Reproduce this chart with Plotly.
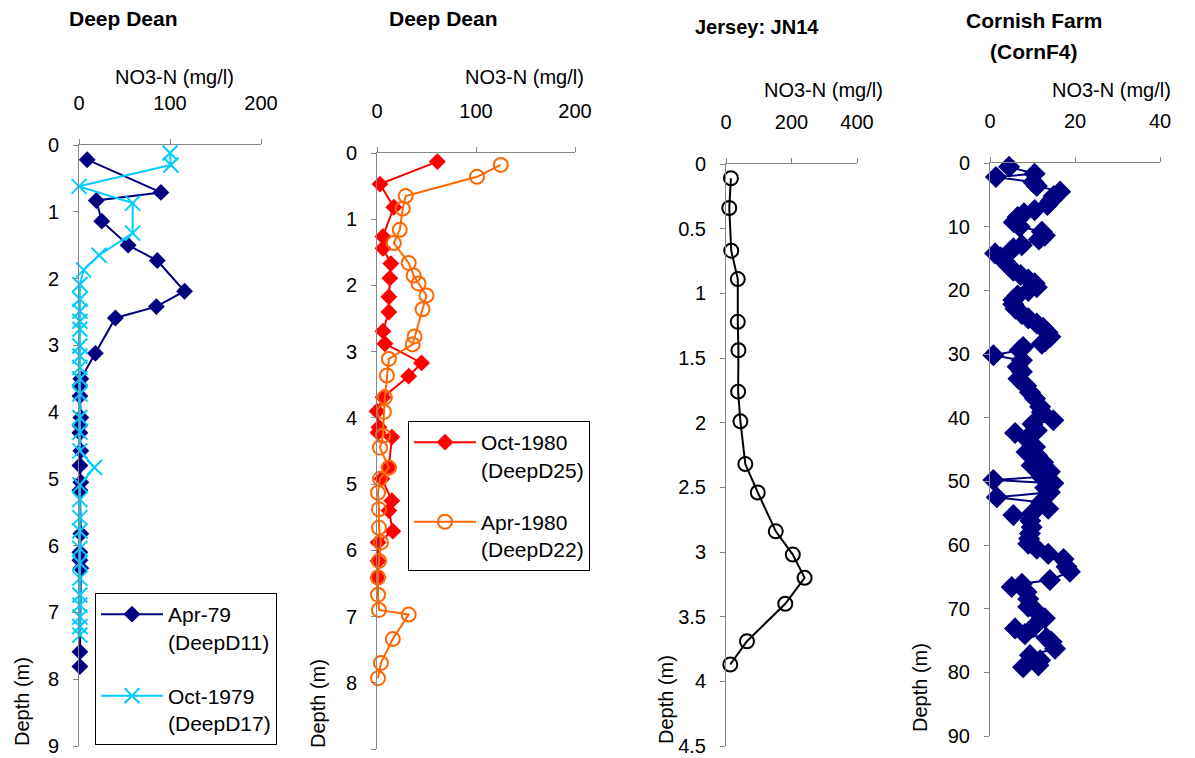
import plotly.graph_objects as go

W, H = 1195, 758

# ---------------- data ----------------
# Panel 1: Deep Dean
depth_apr79 = [0.22, 0.71, 0.83, 1.14, 1.50, 1.73, 2.19, 2.42, 2.59, 3.12, 3.50, 3.60, 3.76,
               4.08, 4.20, 4.31, 4.58, 4.80, 5.05, 5.17, 5.82, 6.10, 6.22, 6.34, 7.59, 7.81]
no3_apr79 = [9, 90, 19, 25, 54, 86, 116, 85, 40, 18, 2, 1, 1,
             2, 1, 1, 2, 1, 2, 1, 2, 1, 1, 2, 1, 1]

depth_oct79 = [0.12, 0.30, 0.62, 0.87, 1.32, 1.65, 1.87, 2.09, 2.31, 2.49, 2.64, 2.76, 3.01,
               3.16, 3.33, 3.50, 3.73, 4.08, 4.30, 4.58, 4.83, 5.09, 5.31, 5.58, 5.78, 6.04,
               6.26, 6.49, 6.74, 6.89, 7.07, 7.21, 7.34]
no3_oct79 = [100, 101, 0, 59, 59, 22, 5, 1, 1, 1, 1, 1, 1,
             1, 1, 1, 1, 1, 1, 1, 17, 1, 1, 1, 1, 1,
             1, 1, 1, 1, 1, 1, 1]

# Panel 2: Deep Dean
depth_oct80 = [0.13, 0.47, 0.82, 1.26, 1.44, 1.67, 1.89, 2.17, 2.40, 2.69, 2.88, 3.17, 3.37,
               3.69, 3.90, 4.14, 4.22, 4.29, 4.75, 4.92, 5.25, 5.40, 5.71, 5.88, 6.16, 6.41]
no3_oct80 = [61, 3, 17, 6, 6, 14, 13, 12, 12, 6, 8, 45, 32,
             6, 0, 2, 1, 15, 12, 5, 15, 12, 16, 1, 1, 1]

depth_apr80 = [0.18, 0.36, 0.65, 0.84, 1.16, 1.36, 1.66, 1.85, 1.97, 2.15, 2.36, 2.77, 2.89,
               3.11, 3.36, 3.69, 3.91, 4.27, 4.45, 4.75, 4.92, 5.13, 5.38, 5.66, 5.88, 6.16,
               6.41, 6.67, 6.90, 6.97, 7.34, 7.70, 7.93]
no3_apr80 = [125, 101, 29, 26, 23, 17, 32, 37, 42, 50, 46, 38, 36,
             12, 10, 8, 7, 6, 3, 12, 3, 1, 2, 2, 4, 2,
             1, 1, 2, 32, 16, 4, 1]

# Panel 3: Jersey JN14
depth_jn14 = [0.11, 0.34, 0.67, 0.89, 1.22, 1.44, 1.76, 1.99, 2.32, 2.54, 2.84, 3.02, 3.20,
              3.40, 3.69, 3.87]
no3_jn14 = [15, 10, 16, 36, 36, 38, 37, 44, 59, 97, 152, 204, 240, 181, 64, 13]

# Panel 4: Cornish Farm CornF4
depth_cornf4 = [0.6, 1.7, 2.2, 3.0, 3.6, 4.5, 5.2, 5.9, 6.6, 7.4, 7.9, 8.5, 9.3, 10.0,
                10.8, 11.4, 12.0, 12.9, 13.4, 14.2, 14.8, 15.5, 16.2, 16.9, 17.6, 18.3,
                18.9, 19.5, 20.1, 20.8, 21.5, 22.2, 22.9, 23.7, 24.4, 25.2, 25.9, 26.6,
                27.3, 28.0, 28.4, 28.9, 29.4, 30.2, 31.0, 32.0, 32.8, 33.9, 35.0, 36.0,
                37.0, 38.3, 39.1, 40.4, 41.0, 42.0, 42.4, 43.0, 43.6, 44.6, 45.4, 45.9,
                47.0, 47.5, 48.5, 49.3, 49.8, 50.3, 51.0, 51.7, 52.5, 53.3, 54.3, 55.1,
                55.3, 56.2, 57.2, 58.2, 59.0, 59.8, 60.6, 61.4, 62.2, 63.4, 64.2, 65.5,
                66.1, 66.6, 67.4, 68.5, 69.7, 70.5, 71.5, 72.9, 73.1, 74.0, 74.6, 75.2,
                76.3, 77.3, 78.1, 78.9, 79.2]
no3_cornf4 = [4.5, 10.5, 1.4, 10.2, 11.0, 16.5, 15.0, 14.4, 13.5, 10.5, 8.0, 6.5, 5.6, 7.0,
              12.2, 12.9, 11.5, 7.5, 5.5, 1.2, 2.5, 3.5, 4.5, 5.5, 7.2, 9.0,
              10.5, 11.0, 9.0, 6.5, 5.5, 5.5, 6.0, 7.5, 9.0, 11.0, 12.5, 13.5,
              14.2, 13.0, 12.2, 7.8, 7.0, 0.8, 7.5, 6.5, 7.5, 6.7, 8.5, 9.4,
              10.6, 11.8, 12.2, 14.9, 10.0, 11.0, 5.9, 9.0, 9.0, 10.6, 8.6, 11.0,
              12.5, 9.8, 14.1, 12.2, 0.8, 14.9, 13.0, 14.1, 1.6, 12.0, 13.7, 9.8,
              5.5, 9.5, 9.8, 9.4, 9.2, 9.0, 11.0, 13.7, 17.3, 18.0, 18.8, 14.1,
              7.5, 5.1, 8.6, 9.0, 9.0, 11.0, 12.9, 10.2, 5.9, 8.2, 13.3, 14.5,
              15.3, 9.4, 11.8, 11.4, 7.8]

panel_titles = ["Deep Dean", "Deep Dean", "Jersey: JN14", "Cornish Farm", "(CornF4)"]
x_title = "NO3-N (mg/l)"
y_title = "Depth (m)"

NAVY = "#000080"
SKY = "#00CCFF"
RED = "#FF0000"
ORANGE = "#FF6600"
AXC = "#868686"
FONT = "Arial, Liberation Sans, sans-serif"
FS = 20

def px(x):
    return x / W

def py(y):
    return 1 - y / H

fig = go.Figure()

fig.add_trace(go.Scatter(x=no3_apr79, y=depth_apr79, mode="lines+markers",
    name="Apr-79<br>(DeepD11)", legend="legend", legendgroup="a",
    line=dict(color=NAVY, width=2),
    marker=dict(symbol="diamond", size=13, color=NAVY),
    xaxis="x", yaxis="y", cliponaxis=False))
fig.add_trace(go.Scatter(x=no3_oct79, y=depth_oct79, mode="lines+markers",
    name="Oct-1979<br>(DeepD17)", legend="legend", legendgroup="b",
    line=dict(color=SKY, width=2),
    marker=dict(symbol="x-thin", size=15, color=SKY, line=dict(color=SKY, width=2)),
    xaxis="x", yaxis="y", cliponaxis=False))

fig.add_trace(go.Scatter(x=no3_oct80, y=depth_oct80, mode="lines+markers",
    name="Oct-1980<br>(DeepD25)", legend="legend2", legendgroup="c",
    line=dict(color=RED, width=2),
    marker=dict(symbol="diamond", size=13, color=RED),
    xaxis="x2", yaxis="y2", cliponaxis=False))
fig.add_trace(go.Scatter(x=no3_apr80, y=depth_apr80, mode="lines+markers",
    name="Apr-1980<br>(DeepD22)", legend="legend2", legendgroup="d",
    line=dict(color=ORANGE, width=2),
    marker=dict(symbol="circle-open", size=14, color=ORANGE, line=dict(width=2)),
    xaxis="x2", yaxis="y2", cliponaxis=False))

fig.add_trace(go.Scatter(x=no3_jn14, y=depth_jn14, mode="lines+markers",
    showlegend=False, line=dict(color="black", width=2),
    marker=dict(symbol="circle-open", size=14, color="black", line=dict(width=2)),
    xaxis="x3", yaxis="y3", cliponaxis=False))

fig.add_trace(go.Scatter(x=no3_cornf4, y=depth_cornf4, mode="lines+markers",
    showlegend=False, line=dict(color=NAVY, width=2),
    marker=dict(symbol="diamond", size=17, color=NAVY),
    xaxis="x4", yaxis="y4", cliponaxis=False))

# panel geometry in pixels: (x0, x1, ytop, ybottom, xrange, xdtick, yrange, ydtick)
panels = [
    (79, 261, 145, 746, [0, 200], 100, [9, 0], 1),
    (377, 575, 153, 749, [0, 200], 100, [9, 0], 1),
    (726, 857, 164, 746, [0, 400], 200, [4.5, 0], 0.5),
    (990, 1160, 163, 736, [0, 40], 20, [90, 0], 10),
]

layout = dict(
    width=W, height=H, margin=dict(l=0, r=0, t=0, b=0, autoexpand=False),
    paper_bgcolor="white", plot_bgcolor="white",
    font=dict(family=FONT, size=FS, color="black"),
    showlegend=True,
)
for i, (x0, x1, yt, yb, xr, xd, yr, yd) in enumerate(panels):
    s = "" if i == 0 else str(i + 1)
    layout["xaxis" + s] = dict(
        domain=[px(x0), px(x1)], anchor="y" + s, side="top", range=xr, dtick=xd,
        tick0=0, showgrid=False, zeroline=False, showline=True, linecolor=AXC,
        linewidth=1, ticks="outside", ticklen=5, tickcolor=AXC, automargin=False,
        tickfont=dict(size=FS, family=FONT, color="black"), ticklabelstandoff=21,
    )
    layout["yaxis" + s] = dict(
        domain=[py(yb), py(yt)], anchor="x" + s, range=yr, dtick=yd, tick0=0,
        showgrid=False, zeroline=False, showline=True, linecolor=AXC,
        linewidth=1, ticks="outside", ticklen=5, tickcolor=AXC, automargin=False,
        tickfont=dict(size=FS, family=FONT, color="black"), ticklabelstandoff=10,
    )

layout["legend"] = dict(x=px(95), y=py(593), xanchor="left", yanchor="top",
    bordercolor="black", borderwidth=1, bgcolor="white",
    font=dict(size=21, family=FONT), itemwidth=62, valign="top", tracegroupgap=24)
layout["legend2"] = dict(x=px(408), y=py(421), xanchor="left", yanchor="top",
    bordercolor="black", borderwidth=1, bgcolor="white",
    font=dict(size=21, family=FONT), itemwidth=62, valign="top", tracegroupgap=22)

fig.update_layout(**layout)

def ann(text, x, y, size=FS, bold=False, angle=0):
    t = "<b>%s</b>" % text if bold else text
    fig.add_annotation(text=t, x=px(x), y=py(y), xref="paper", yref="paper",
                       showarrow=False, xanchor="center", yanchor="middle",
                       textangle=angle, font=dict(size=size, family=FONT, color="black"))

ann(panel_titles[0], 123, 19, 21, True)
ann(panel_titles[1], 443, 19, 21, True)
ann(panel_titles[2], 757, 27, 20, True)
ann(panel_titles[3], 1034, 20, 21, True)
ann(panel_titles[4], 1034, 52, 21, True)

for cx, cy in [(174, 77), (524, 77), (823, 90), (1111, 90)]:
    ann(x_title, cx, cy)

for cx, cy in [(22, 702), (318, 704), (666, 700), (920, 688)]:
    ann(y_title, cx, cy, angle=-90)

fig.write_html(
    "out.html",
    config={"displayModeBar": False},
    post_script="document.body.style.margin='0px';document.body.style.overflow='hidden';",
)
